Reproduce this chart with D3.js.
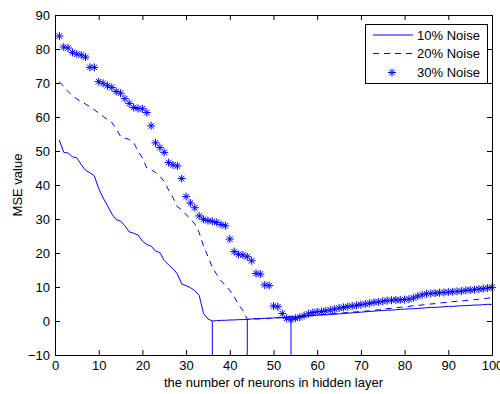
<!DOCTYPE html>
<html>
<head>
<meta charset="utf-8">
<script src="https://cdn.jsdelivr.net/npm/d3@7"></script>
<style>
  html, body { margin: 0; padding: 0; background: #fff; }
  svg { display: block; font-family: "Liberation Sans", Arial, Helvetica, sans-serif; }
</style>
</head>
<body>
<svg id="chart" width="500" height="394"></svg>
<script>
// ---- data ----
const neurons = d3.range(1, 101); // x values 1..100

const noise10 = [
  53.2, 49.6, 49.4, 48.3, 48.0, 46.0, 44.3, 43.6, 42.7, 39.0,
  36.2, 34.0, 31.5, 29.8, 29.4, 28.0, 26.2, 25.8, 25.3, 23.5,
  22.5, 22.0, 20.6, 20.1, 17.8, 16.5, 15.4, 13.8, 10.9, 10.4,
  9.8, 8.9, 7.5, 2.2, 0.6, 0.0, 0.1, 0.2, 0.2, 0.3,
  0.3, 0.4, 0.4, 0.5, 0.6, 0.7, 0.7, 0.8, 0.8, 0.9,
  1.0, 1.0, 1.1, 1.2, 1.2, 1.3, 1.4, 1.5, 1.6, 1.7,
  1.8, 1.8, 1.9, 2.0, 2.1, 2.2, 2.3, 2.4, 2.5, 2.6,
  2.7, 2.8, 2.9, 3.0, 3.1, 3.2, 3.2, 3.3, 3.4, 3.5,
  3.6, 3.6, 3.7, 3.8, 3.9, 4.0, 4.0, 4.1, 4.2, 4.3,
  4.3, 4.4, 4.5, 4.5, 4.6, 4.7, 4.7, 4.8, 4.9, 4.9
];

const noise20 = [
  70.4, 68.9, 67.5, 66.2, 65.3, 64.5, 63.8, 63.0, 62.1, 61.2,
  60.2, 59.2, 58.4, 56.5, 54.3, 53.8, 53.4, 52.5, 50.0, 48.0,
  45.0, 44.5, 43.7, 42.6, 41.0, 38.5, 36.3, 33.6, 32.7, 31.3,
  30.1, 28.5, 26.0, 22.0, 19.0, 15.8, 13.7, 11.8, 10.5, 9.0,
  7.2, 4.8, 3.1, 0.5, 0.5, 0.6, 0.6, 0.7, 0.8, 0.9,
  0.9, 1.0, 1.1, 1.2, 1.3, 1.4, 1.5, 1.6, 1.7, 1.8,
  1.9, 2.0, 2.1, 2.2, 2.3, 2.4, 2.5, 2.6, 2.7, 2.8,
  2.9, 3.0, 3.1, 3.3, 3.4, 3.6, 3.7, 3.9, 4.0, 4.2,
  4.3, 4.5, 4.6, 4.7, 4.9, 5.0, 5.1, 5.3, 5.4, 5.5,
  5.7, 5.8, 5.9, 6.0, 6.1, 6.3, 6.4, 6.5, 6.7, 6.9
];

const noise30 = [
  83.8, 80.6, 80.3, 79.0, 78.5, 78.2, 77.6, 74.6, 74.6, 70.4,
  69.9, 69.2, 68.7, 67.5, 67.0, 65.4, 64.0, 62.8, 62.5, 62.4,
  61.3, 57.4, 52.4, 51.0, 49.6, 46.6, 45.9, 45.6, 41.9, 36.6,
  34.7, 33.3, 30.9, 29.9, 29.5, 29.3, 29.0, 28.4, 28.0, 24.1,
  20.4, 19.6, 19.4, 18.9, 17.7, 14.0, 13.8, 10.6, 10.4, 4.4,
  4.2, 2.2, 0.8, 0.4, 0.8, 1.1, 1.6, 2.1, 2.5, 2.7,
  2.8, 3.0, 3.2, 3.5, 3.8, 4.0, 4.2, 4.4, 4.6, 4.8,
  5.0, 5.2, 5.5, 5.6, 5.8, 6.0, 6.1, 6.2, 6.2, 6.3,
  6.4, 6.8, 7.3, 7.7, 8.0, 8.1, 8.2, 8.3, 8.4, 8.5,
  8.6, 8.7, 8.8, 9.0, 9.1, 9.2, 9.4, 9.5, 9.7, 9.9
];

// minimum points marked with vertical stems to the bottom of the axes
const minNeurons = [36, 44, 54];
const minValues = [0.0, 0.5, 0.4];

const legendLabels = ["10% Noise", "20% Noise", "30% Noise"];
const xTicks = d3.range(0, 101, 10);
const yTicks = d3.range(-10, 91, 10);

// ---- layout ----
const W = 500, H = 394;
const m = { left: 55, right: 8, top: 15, bottom: 39 };
const blue = "#0000ff";

const svg = d3.select("#chart");
const x = d3.scaleLinear().domain([0, 100]).range([m.left, W - m.right]);
const y = d3.scaleLinear().domain([-10, 90]).range([H - m.bottom, m.top]);

const plot = svg.append("g");

// data lines
const line = d3.line().x((d, i) => x(neurons[i])).y(d => y(d));

plot.append("path").datum(noise10)
  .attr("d", line).attr("fill", "none")
  .attr("stroke", blue).attr("stroke-width", 1);

plot.append("path").datum(noise20)
  .attr("d", line).attr("fill", "none")
  .attr("stroke", blue).attr("stroke-width", 1)
  .attr("stroke-dasharray", "6,5");

// stems at the minima
plot.selectAll("line.stem").data(minNeurons).enter().append("line")
  .attr("class", "stem")
  .attr("x1", d => x(d)).attr("x2", d => x(d))
  .attr("y1", (d, i) => y(minValues[i])).attr("y2", y(-10))
  .attr("stroke", blue).attr("stroke-width", 1);

// star marker
function starPath(cx, cy) {
  const r = 4, q = 2.8;
  return `M${cx - r},${cy}L${cx + r},${cy}M${cx},${cy - r}L${cx},${cy + r}` +
         `M${cx - q},${cy - q}L${cx + q},${cy + q}M${cx - q},${cy + q}L${cx + q},${cy - q}`;
}

plot.selectAll("path.star").data(noise30).enter().append("path")
  .attr("class", "star")
  .attr("d", (d, i) => starPath(x(neurons[i]), y(d)))
  .attr("fill", "none").attr("stroke", blue).attr("stroke-width", 1);

// ---- axes ----
const fs = 13;
const axB = svg.append("g").attr("transform", `translate(0,${y(-10)})`)
  .call(d3.axisBottom(x).tickValues(xTicks).tickSizeInner(-5).tickSizeOuter(0).tickPadding(6));
const axT = svg.append("g").attr("transform", `translate(0,${y(90)})`)
  .call(d3.axisTop(x).tickValues(xTicks).tickSizeInner(-5).tickSizeOuter(0).tickFormat(""));
const axL = svg.append("g").attr("transform", `translate(${x(0)},0)`)
  .call(d3.axisLeft(y).tickValues(yTicks).tickSizeInner(-5).tickSizeOuter(0).tickPadding(5));
const axR = svg.append("g").attr("transform", `translate(${x(100)},0)`)
  .call(d3.axisRight(y).tickValues(yTicks).tickSizeInner(-5).tickSizeOuter(0).tickFormat(""));

[axB, axT, axL, axR].forEach(g => {
  g.selectAll("path.domain").attr("stroke", "#000").attr("stroke-width", 1);
  g.selectAll(".tick line").attr("stroke", "#000");
  g.selectAll("text").attr("fill", "#000")
    .style("font-family", '"Liberation Sans", Arial, sans-serif')
    .style("font-size", fs + "px");
});

// axis titles
svg.append("text")
  .attr("x", (x(0) + x(100)) / 2).attr("y", 387)
  .attr("text-anchor", "middle").attr("font-size", fs).attr("fill", "#000")
  .text("the number of neurons in hidden layer");

svg.append("text")
  .attr("transform", `translate(22,${(y(-10) + y(90)) / 2}) rotate(-90)`)
  .attr("text-anchor", "middle").attr("font-size", fs).attr("fill", "#000")
  .text("MSE value");

// ---- legend ----
const lg = svg.append("g");
lg.append("rect")
  .attr("x", 365.5).attr("y", 24.5).attr("width", 122).attr("height", 59)
  .attr("fill", "#fff").attr("stroke", "#000").attr("stroke-width", 1);

const rowY = [35, 53.5, 72.5];
lg.append("line").attr("x1", 373).attr("x2", 413).attr("y1", rowY[0]).attr("y2", rowY[0])
  .attr("stroke", blue).attr("stroke-width", 1);
lg.append("line").attr("x1", 373).attr("x2", 413).attr("y1", rowY[1]).attr("y2", rowY[1])
  .attr("stroke", blue).attr("stroke-width", 1).attr("stroke-dasharray", "6,5");
lg.append("path").attr("d", starPath(392, rowY[2]))
  .attr("fill", "none").attr("stroke", blue).attr("stroke-width", 1);

lg.selectAll("text.lab").data(legendLabels).enter().append("text")
  .attr("class", "lab")
  .attr("x", 417).attr("y", (d, i) => rowY[i] + 4.5)
  .attr("font-size", fs).attr("fill", "#000")
  .text(d => d);
</script>
</body>
</html>
